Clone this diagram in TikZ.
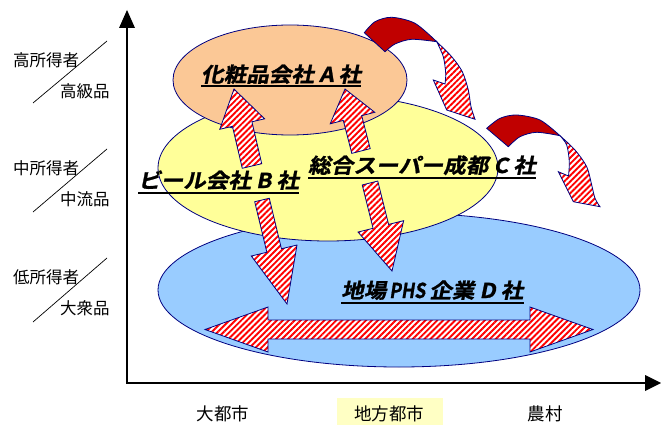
\documentclass[tikz,border=0pt]{standalone}
\usepackage{fontspec}
\usetikzlibrary{calc,patterns.meta}
\newfontfamily\jp{Noto Sans CJK JP}
\newfontfamily\jpbi{Noto Sans CJK JP Bold}[FakeSlant=0.2,FakeStretch=1.1,FakeBold=1.2]
\definecolor{navyc}{HTML}{000080}
\definecolor{dkred}{HTML}{C00000}
\definecolor{peach}{HTML}{FBC896}
\definecolor{lyellow}{HTML}{FFFF99}
\definecolor{lblue}{HTML}{99CCFF}
\definecolor{hilite}{HTML}{FFFFC4}
\newcommand{\hatcharrow}[7]{%
  \coordinate (hT) at (#1,#2);
  \coordinate (hH) at (#3,#4);
  \coordinate (hB) at ($(hH)!#7pt!(hT)$);
  \draw[hatch] ($(hT)!#5pt!90:(hH)$) -- ($(hB)!#5pt!90:(hH)$) -- ($(hB)!#6pt!90:(hH)$) -- (hH)
    -- ($(hB)!#6pt!-90:(hH)$) -- ($(hB)!#5pt!-90:(hH)$) -- ($(hT)!#5pt!-90:(hH)$) -- cycle;}
\begin{document}
\begin{tikzpicture}[x=1pt,y=-1pt,
  ell/.style={draw=navyc,line width=0.8pt},
  hatch/.style={draw=navyc,line width=0.8pt,preaction={fill=white},
    pattern={Lines[angle=45,distance=4.2pt,line width=1.9pt]},pattern color=red},
  solidpart/.style={draw=navyc,line width=0.8pt,fill=dkred},
  axis/.style={line width=1.6pt,black},
  tip/.style={fill=black},
  side/.style={font=\jp\fontsize{16.5}{17}\selectfont,inner sep=0pt,anchor=west},
  bottom/.style={font=\jp\fontsize{17.5}{18}\selectfont,inner sep=0pt},
  firm/.style={font=\jpbi\fontsize{20.5}{21}\selectfont,inner sep=0pt,anchor=base west},
  uline/.style={line width=1.1pt,black}]
\useasboundingbox (0,0) rectangle (661,425);

% axes
\draw[axis] (127,24) -- (127,383) -- (648,383);
\fill[tip] (127,10) -- (135,28) -- (119,28) -- cycle;
\fill[tip] (661,383) -- (645,375) -- (645,391) -- cycle;

% left labels
\node[side] (h1) at (13,60) {高所得者};
\node[side] (h2) at (60,91) {高級品};
\draw[line width=0.7pt] (33,103) -- (107,41);
\node[side] (m1) at (13,168) {中所得者};
\node[side] (m2) at (60,199) {中流品};
\draw[line width=0.7pt] (33,212) -- (107,149);
\node[side] (l1) at (13,277) {低所得者};
\node[side] (l2) at (60,308) {大衆品};
\draw[line width=0.7pt] (33,322) -- (107,258);

% bottom labels
\fill[hilite] (337,398) rectangle (443,425);
\node[bottom] (x1) at (223,414) {大都市};
\node[bottom] (x2) at (389,414) {地方都市};
\node[bottom] (x3) at (545,414) {農村};

% ellipses
\draw[ell,fill=lblue] (399,290) ellipse [x radius=241, y radius=77];
\draw[ell,fill=lyellow] (328,168) ellipse [x radius=170, y radius=73];
\draw[ell,fill=peach] (290,80) ellipse [x radius=117, y radius=55];

% straight hatched arrows
\hatcharrow{252}{166}{234}{89}{10}{23}{36}
\hatcharrow{361}{151}{345}{89}{9.5}{23}{30}
\hatcharrow{262}{200}{287}{304}{7.5}{23.5}{55}
\hatcharrow{370}{183}{392}{271}{8}{23.5}{46}

% double arrow
\draw[hatch] (205,329.5) -- (268,307) -- (268,320) -- (530,320) -- (530,307) -- (593,329.5)
  -- (530,352) -- (530,339) -- (268,339) -- (268,352) -- cycle;

% curved arrow 1
\draw[solidpart] plot[smooth] coordinates {(364.3,32.7) (375,21.7) (391.7,17.3) (415,23.3) (436.7,41.7)}
  -- plot[smooth] coordinates {(436.7,41.7) (411.7,39.3) (395,44) (385,51.7)} -- cycle;
\draw[hatch] plot[smooth] coordinates {(436.7,41.7) (451.7,56.7) (462.3,71.7) (468.3,90) (471,106.7) (475,119.3)}
  -- (446.7,110) -- (433.3,80)
  -- plot[smooth] coordinates {(445,84) (445.7,73.3) (443.3,56.7) (436.7,41.7)} -- cycle;

% curved arrow 2
\draw[solidpart] plot[smooth] coordinates {(486.7,128.3) (500,118.3) (516.7,115) (540,120) (560,135.7)}
  -- plot[smooth] coordinates {(560,135.7) (536.7,132.3) (520,136.7) (508.3,146.7)} -- cycle;
\draw[hatch] plot[smooth] coordinates {(560,135.7) (575,150) (586.7,166.7) (591.7,185) (595,198.3) (600,206.7)}
  -- (573.3,201.7) -- (558.3,171.7)
  -- plot[smooth] coordinates {(568.5,176) (569.3,161.7) (566.7,145) (560,135.7)} -- cycle;

% firm labels
\node[firm] (fa) at (201,82) {化粧品会社 A 社};
\draw[uline] ([yshift=-4pt]fa.base west) -- ([yshift=-4pt]fa.base east);
\node[firm] (fb) at (138,188) {ビール会社 B 社};
\draw[uline] ([yshift=-5pt]fb.base west) -- ([yshift=-5pt]fb.base east);
\node[firm] (fc) at (308,173) {総合スーパー成都 C 社};
\draw[uline] ([yshift=-5pt]fc.base west) -- ([yshift=-5pt]fc.base east);
\node[firm] (fd) at (341,298) {地場\hspace{3pt}\scalebox{0.78}[1]{PHS}\hspace{4pt}企業 D 社};
\draw[uline] ([yshift=-5pt]fd.base west) -- ([yshift=-5pt]fd.base east);
\end{tikzpicture}
\end{document}
